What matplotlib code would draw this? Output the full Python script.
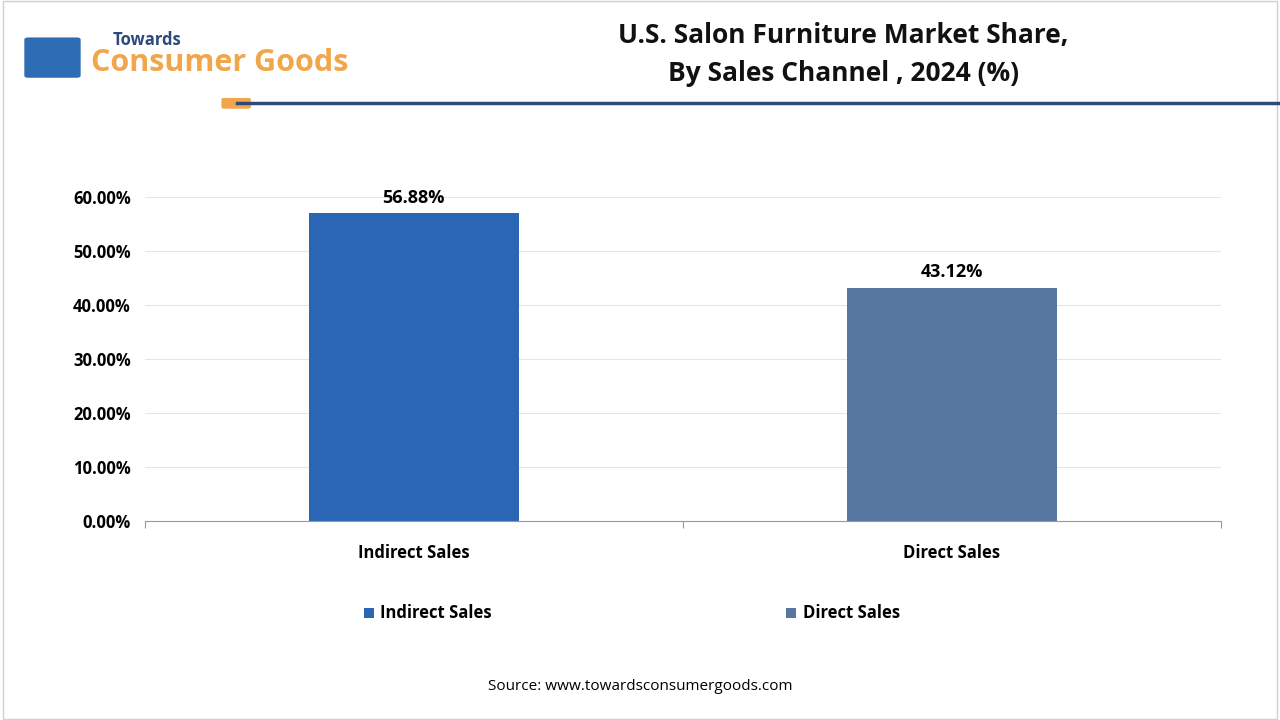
import matplotlib.pyplot as plt
from matplotlib.patches import Rectangle, FancyBboxPatch

plt.rcParams["font.family"] = "Open Sans"

channels = ["Indirect Sales", "Direct Sales"]
shares = [56.88, 43.12]
colors = ["#2B66B5", "#5577A0"]
yticks = [0, 10, 20, 30, 40, 50, 60]

fig = plt.figure(figsize=(12.8, 7.2), dpi=100)
fig.patches.append(Rectangle((0.002, 0.002), 0.996, 0.996, transform=fig.transFigure,
                             fill=False, edgecolor="#D0D0D0", linewidth=1))

# header
fig.text(0.659, 0.950, "U.S. Salon Furniture Market Share,", ha="center", va="center",
         fontsize=19, fontweight="bold", color="#111111")
fig.text(0.659, 0.898, "By Sales Channel , 2024 (%)", ha="center", va="center",
         fontsize=19, fontweight="bold", color="#111111")
fig.add_artist(plt.Line2D([0.185, 1.0], [0.857, 0.857], color="#2E4A7A", linewidth=2.5,
                          transform=fig.transFigure))
fig.patches.append(FancyBboxPatch((0.175, 0.851), 0.019, 0.011, boxstyle="round,pad=0.002",
                                  transform=fig.transFigure, facecolor="#F2A64A", edgecolor="none"))
fig.text(0.088, 0.945, "Towards", fontsize=12, fontweight="bold", color="#2E4A7A", va="center")
fig.text(0.071, 0.912, "Consumer Goods", fontsize=22, fontweight="bold", color="#F2A64A", va="center")
fig.patches.append(FancyBboxPatch((0.022, 0.895), 0.038, 0.05, boxstyle="round,pad=0.003",
                                  transform=fig.transFigure, facecolor="#2E6DB4", edgecolor="none"))

ax = fig.add_axes([0.113, 0.276, 0.841, 0.451])
x = range(len(channels))
bars = ax.bar(x, shares, width=0.39, color=colors)
for b, v in zip(bars, shares):
    ax.text(b.get_x() + b.get_width() / 2, v + 1.2, f"{v:.2f}%", ha="center", va="bottom",
            fontsize=13, fontweight="bold", clip_on=False)
ax.set_xlim(-0.5, 1.5)
ax.set_ylim(0, 60)
ax.set_yticks(yticks)
ax.set_yticklabels([f"{t:.2f}%" for t in yticks], fontsize=12, fontweight="bold")
ax.set_xticks([-0.5, 0.5, 1.5], minor=False)
ax.set_xticklabels([])
ax.set_xticks(list(x), minor=True)
ax.set_xticklabels(channels, minor=True, fontsize=12, fontweight="bold")
ax.tick_params(axis="x", which="major", length=5, color="#999999")
ax.tick_params(axis="x", which="minor", length=0, pad=16)
ax.tick_params(axis="y", length=0, pad=10)
ax.grid(axis="y", color="#E6E6E6", linewidth=0.8)
ax.set_axisbelow(True)
for s in ["top", "right", "left"]:
    ax.spines[s].set_visible(False)
ax.spines["bottom"].set_color("#999999")

# legend
for xpos, lab, c in zip([0.288, 0.618], channels, colors):
    fig.patches.append(Rectangle((xpos - 0.004, 0.142), 0.008, 0.014, transform=fig.transFigure,
                                 facecolor=c, edgecolor="none"))
    fig.text(xpos + 0.009, 0.149, lab, fontsize=12, fontweight="bold", va="center")

fig.text(0.5, 0.047, "Source: www.towardsconsumergoods.com", ha="center", va="center", fontsize=11)

fig.savefig("out.png", dpi=100)
